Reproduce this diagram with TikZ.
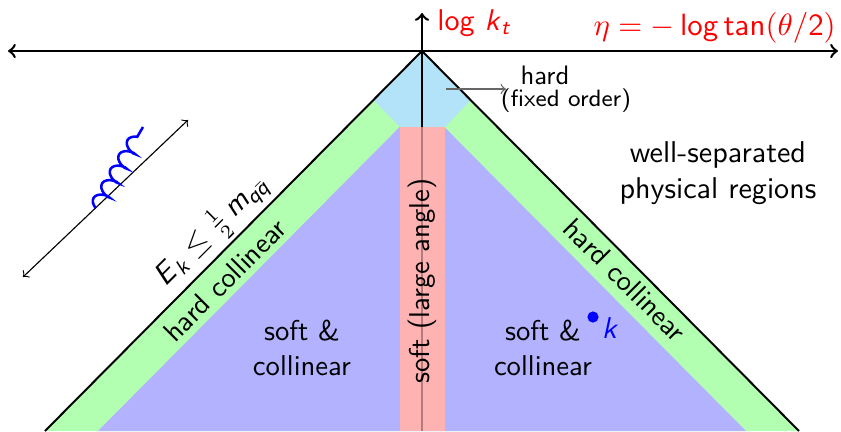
\documentclass[tikz,border=0pt]{standalone}
\usepackage{amsmath}
\usetikzlibrary{decorations.pathmorphing}
\renewcommand{\familydefault}{\sfdefault}
\newcommand{\sit}[1]{\textsf{\itshape #1}}
\definecolor{hardblue}{HTML}{B3E3F8}
\colorlet{collgreen}{green!30}
\colorlet{softblue}{blue!30}
\colorlet{widepink}{red!30}
\tikzset{
  axis/.style={draw=black, line width=0.9pt},
  edgeline/.style={draw=black, line width=0.7pt},
  region/.style={font=\fontsize{10.2}{12.6}\selectfont, align=center, inner sep=1pt},
  mathlbl/.style={font=\fontsize{10.7}{13}\selectfont, inner sep=1pt},
  pointer/.style={draw=black!60, line width=0.45pt, ->},
  gluon/.style={draw=blue, line width=0.9pt, decorate,
    decoration={coil, aspect=0.5, segment length=2.1mm, amplitude=0.85mm}}
}
\begin{document}
\begin{tikzpicture}[x=1.25mm,y=1.25mm]
  \path[use as bounding box] (-42.2,-38) rectangle (41.9,5.1);

  % regions of the Lund plane
  \coordinate (apex) at (0,0);
  \coordinate (bl) at (-37.7,-38);
  \coordinate (br) at (37.7,-38);
  \fill[collgreen] (apex) -- (bl) -- (br) -- cycle;
  \fill[softblue] (0,-5.35) -- (-32.4,-38) -- (32.4,-38) -- cycle;
  \fill[hardblue] (apex) -- (-4.86,-4.9) -- (-2.2,-7.6) -- (2.3,-7.6) -- (4.86,-4.9) -- cycle;
  \fill[widepink] (-2.2,-7.6) rectangle (2.3,-38);

  % axes
  \coordinate (etaL) at (-41.4,0);
  \coordinate (etaR) at (41.6,0);
  \coordinate (ktop) at (0,3.8);
  \coordinate (kmid) at (0,-7.6);
  \coordinate (kbot) at (0,-38);
  \draw[axis, <->] (etaL) -- (etaR);
  \draw[axis, ->] (kmid) -- (ktop);
  \draw[axis, draw opacity=0.3] (kbot) -- (kmid);
  \draw[edgeline] (bl) -- (apex) -- (br);

  \node[mathlbl, text=red, anchor=west] (ktlbl) at (1.2,2.8) {log \sit{k}$_{\sit{t}}$};
  \node[mathlbl, text=red, anchor=east] (etalbl) at (41.7,2.3)
    {$\eta = -\,\mathsf{log}\,\mathsf{tan}\mathsf{(}\theta\mathsf{/2)}$};

  % labels
  \node[font=\fontsize{9.5}{11}\selectfont, inner sep=1pt] (hard) at (12.3,-2.4) {hard};
  \node[font=\fontsize{8.4}{10}\selectfont, inner sep=1pt] (fixed) at (14.4,-5.0) {(fixed order)};
  \coordinate (hardsrc) at (2.4,-3.8);
  \coordinate (hardtip) at (8.4,-3.8);
  \draw[pointer] (hardsrc) -- (hardtip);

  \node[region, font=\fontsize{10.7}{13}\selectfont] (sep) at (29.6,-12.2) {well-separated\\physical regions};
  \node[region] (scL) at (-12.0,-29.7) {soft \&\\collinear};
  \node[region] (scR) at (12.1,-29.7) {soft \&\\collinear};
  \node[region, rotate=90] (wide) at (0,-23.0) {soft (large angle)};
  \node[region, rotate=45] (hcL) at (-19.7,-22.9) {hard collinear};
  \node[region, rotate=-45] (hcR) at (20.3,-22.9) {hard collinear};
  \node[mathlbl, rotate=45] (ecut) at (-21.0,-18.0)
    {\sit{E}$_{\sit{k}} \le \frac{1}{2}\,$\sit{m}$_{\sit{q}\bar{\sit{q}}}$};

  % emission k
  \node[circle, fill=blue, inner sep=0pt, minimum size=1.4mm] (kdot) at (17.1,-26.6) {};
  \node[mathlbl, text=blue] (klbl) at (18.8,-27.7) {\sit{k}};

  % collinear splitting
  \coordinate (jetA) at (-39.9,-22.6);
  \coordinate (jetB) at (-23.4,-6.9);
  \coordinate (gluonend) at (-27.9,-7.6);
  \draw[thin, <->] (jetA) -- coordinate[pos=0.44] (emit) (jetB);
  \draw[gluon] (emit) -- (gluonend);
\end{tikzpicture}
\end{document}
